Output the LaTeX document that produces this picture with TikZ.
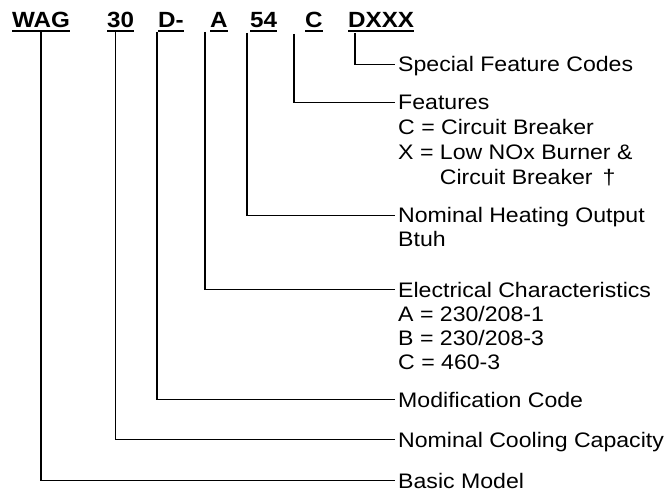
\documentclass[tikz,border=0pt]{standalone}
\usepackage{fontspec}
\setmainfont{Liberation Sans}[FakeStretch=1.1]
\begin{document}
\begin{tikzpicture}[x=1pt,y=1pt,
  code/.style={font=\fontsize{22}{24}\selectfont\bfseries, inner sep=0pt, anchor=base west},
  lbl/.style={font=\fontsize{21}{24}\selectfont, inner sep=0pt, anchor=base west, align=left},
  conn/.style={line width=1.4pt},
  uline/.style={line width=1.6pt}]
\useasboundingbox (0,0) rectangle (665,-492);
% codes
\node[code] (c1) at (12,-28) {WAG};
\node[code] (c2) at (107,-28) {30};
\node[code] (c3) at (158,-28) {D-};
\node[code] (c4) at (210,-28) {A};
\node[code] (c5) at (250,-28) {54};
\node[code] (c6) at (305,-28) {C};
\node[code] (c7) at (348,-28) {DXXX};
\foreach \c in {c1,c2,c3,c4,c5,c6,c7}
  \draw[uline] ([yshift=-3pt]\c.base west) -- ([yshift=-3pt]\c.base east);
% labels (base anchor = baseline of the last line)
\node[lbl] (l1) at (398,-72) {Special Feature Codes};
\node[lbl, font=\fontsize{21}{25}\selectfont] (l2) at (398,-185) {Features\\C = Circuit Breaker\\X = Low NOx Burner \&\\\phantom{X = }Circuit Breaker \,†};
\node[lbl] (l3) at (398,-247) {Nominal Heating Output\\Btuh};
\node[lbl] (l4) at (398,-369) {Electrical Characteristics\\A = 230/208-1\\B = 230/208-3\\C = 460-3};
\node[lbl] (l5) at (398,-407) {Modification Code};
\node[lbl] (l6) at (398,-447) {Nominal Cooling Capacity};
\node[lbl] (l7) at (398,-488) {Basic Model};
% connectors
\draw[conn] ([yshift=-4pt]c1.base) |- ([xshift=-3pt,yshift=7.5pt]l7.base west);
\draw[conn] ([xshift=-5pt,yshift=-4pt]c2.base) |- ([xshift=-3pt,yshift=7.5pt]l6.base west);
\draw[conn] ([xshift=-1pt,yshift=-4pt]c3.base west) |- ([xshift=-3pt,yshift=7.5pt]l5.base west);
\draw[conn] ([xshift=-5pt,yshift=-4pt]c4.base west) |- ([xshift=-3pt,yshift=79.5pt]l4.base west);
\draw[conn] ([xshift=-3pt,yshift=-5pt]c5.base west) |- ([xshift=-3pt,yshift=31.5pt]l3.base west);
\draw[conn] ([xshift=-11pt,yshift=-6pt]c6.base west) |- ([xshift=-3pt,yshift=82.5pt]l2.base west);
\draw[conn] ([xshift=7pt,yshift=-5pt]c7.base west) |- ([xshift=-3pt,yshift=7.5pt]l1.base west);
\end{tikzpicture}
\end{document}
